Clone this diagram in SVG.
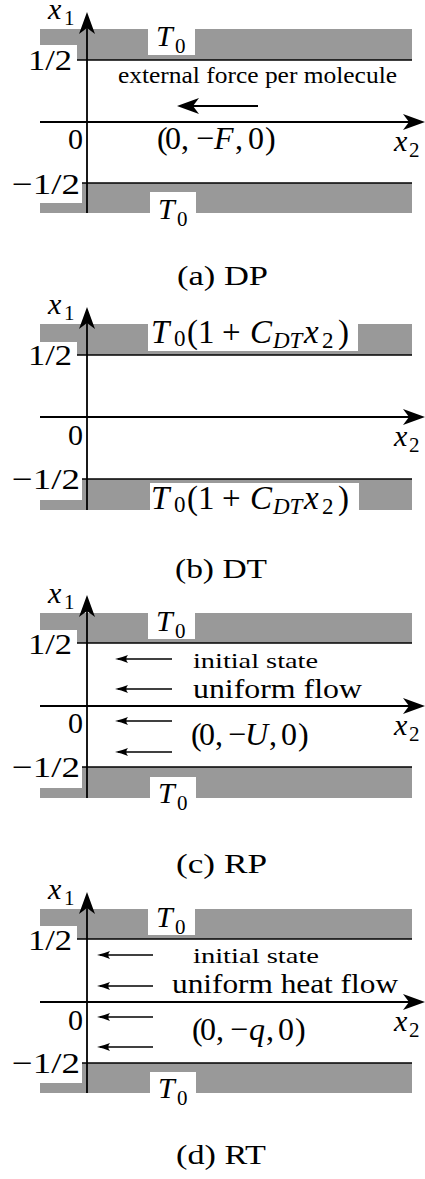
<svg xmlns="http://www.w3.org/2000/svg" width="425" height="1179" viewBox="0 0 425 1179">
<style>
text{font-family:"Liberation Serif","Times New Roman",serif;fill:#000}
.m{font-size:30px;font-style:italic}
.n{font-size:30px}
.tp{font-size:32px}
.s{font-size:21px;font-style:normal}
.g{font-size:33px}
.gs{font-size:23px;font-style:normal}
.gsi{font-size:23px;font-style:italic}
.t{font-size:24px}
.i{font-size:22px}
.u{font-size:28px}
.cap{font-size:27px}
.band{fill:#999999;stroke:none}
.wb{fill:#ffffff;stroke:none}
.bl{stroke:#000;stroke-width:1.6;fill:none}
.ax{stroke:#000;stroke-width:1.8;fill:none;marker-end:url(#ah)}
.fa{stroke:#000;stroke-width:2;fill:none;marker-end:url(#ah)}
.sa{stroke:#000;stroke-width:1.3;fill:none;marker-end:url(#sh)}
</style>
<defs>
<marker id="ah" viewBox="-24 -10 26 20" refX="-15" refY="0" markerWidth="26" markerHeight="20" markerUnits="userSpaceOnUse" orient="auto">
<path d="M0,0 L-22,-8 L-16,0 L-22,8 Z" fill="#000"/>
</marker>
<marker id="sh" viewBox="-16 -6 18 12" refX="-3" refY="0" markerWidth="18" markerHeight="12" markerUnits="userSpaceOnUse" orient="auto">
<path d="M0,0 Q-6,-1.2 -13,-4 Q-9.5,0 -13,4 Q-6,1.2 0,0 Z" fill="#000"/>
</marker>
</defs>

<!-- Panel (a) DP -->
<g id="panel-a">
<path class="band" d="M40,29 H412 V60 H77 V45 H40 Z"/>
<rect class="wb" x="148" y="29" width="47" height="26"/>
<path class="band" d="M82,183 H412 V213 H40 V203 H82 Z"/>
<rect class="wb" x="150" y="192" width="46" height="21"/>
<g id="connectors-a">
<path class="bl" d="M77,60 H412"/>
<path class="bl" d="M82,183 H412"/>
<path class="ax" d="M87,213 V27"/>
<path class="ax" d="M40,122 H410"/>
<path class="fa" d="M258,106 H192"/>
</g>
<text class="m" x="48" y="19">x</text><text class="s" x="64" y="25">1</text>
<text class="n" x="28" y="70" textLength="44" lengthAdjust="spacingAndGlyphs">1/2</text>
<text class="n" x="68" y="149">0</text>
<text class="n" x="12" y="194" textLength="68" lengthAdjust="spacingAndGlyphs">−1/2</text>
<text class="m" x="394" y="151">x</text><text class="s" x="409" y="157">2</text>
<text class="m" x="156" y="46">T</text><text class="s" x="175" y="53">0</text>
<text class="m" x="158" y="219">T</text><text class="s" x="177" y="226">0</text>
<text class="t" x="118" y="83" textLength="279" lengthAdjust="spacingAndGlyphs">external force per molecule</text>
<text class="tp" y="149"><tspan x="157 165 181">(0,</tspan><tspan x="196">−</tspan><tspan x="214" font-style="italic">F</tspan><tspan x="235 248 265">,0)</tspan></text>
<text class="cap" x="177" y="285" textLength="91" lengthAdjust="spacingAndGlyphs">(a) DP</text>
</g>

<!-- Panel (b) DT -->
<g id="panel-b">
<path class="band" d="M40,324 H412 V355 H77 V342 H40 Z"/>
<rect class="wb" x="148" y="324" width="210" height="27"/>
<path class="band" d="M82,479 H412 V510 H40 V500 H82 Z"/>
<rect class="wb" x="150" y="483" width="209" height="27"/>
<g id="connectors-b">
<path class="bl" d="M77,355 H412"/>
<path class="bl" d="M82,479 H412"/>
<path class="ax" d="M87,510 V322"/>
<path class="ax" d="M40,417 H410"/>
</g>
<text class="m" x="48" y="314">x</text><text class="s" x="64" y="320">1</text>
<text class="n" x="28" y="365" textLength="44" lengthAdjust="spacingAndGlyphs">1/2</text>
<text class="n" x="68" y="445">0</text>
<text class="n" x="12" y="489" textLength="68" lengthAdjust="spacingAndGlyphs">−1/2</text>
<text class="m" x="394" y="446">x</text><text class="s" x="409" y="452">2</text>
<text class="g" y="343"><tspan x="151" font-style="italic">T</tspan><tspan class="gs" x="174" y="346">0</tspan><tspan x="187 198" y="343">(1</tspan><tspan x="222">+</tspan><tspan x="250" font-style="italic">C</tspan><tspan class="gsi" x="273" y="348">DT</tspan><tspan x="304" y="343" font-style="italic">x</tspan><tspan class="gs" x="322" y="348">2</tspan><tspan x="338" y="343">)</tspan></text>
<text class="g" y="509"><tspan x="151" font-style="italic">T</tspan><tspan class="gs" x="174" y="512">0</tspan><tspan x="187 198" y="509">(1</tspan><tspan x="222">+</tspan><tspan x="250" font-style="italic">C</tspan><tspan class="gsi" x="273" y="514">DT</tspan><tspan x="304" y="509" font-style="italic">x</tspan><tspan class="gs" x="322" y="514">2</tspan><tspan x="338" y="509">)</tspan></text>
<text class="cap" x="175" y="578" textLength="92" lengthAdjust="spacingAndGlyphs">(b) DT</text>
</g>

<!-- Panel (c) RP -->
<g id="panel-c">
<path class="band" d="M40,613 H412 V643 H77 V630 H40 Z"/>
<rect class="wb" x="148" y="613" width="47" height="26"/>
<path class="band" d="M82,767 H412 V798 H40 V788 H82 Z"/>
<rect class="wb" x="150" y="777" width="46" height="21"/>
<g id="connectors-c">
<path class="bl" d="M77,643 H412"/>
<path class="bl" d="M82,767 H412"/>
<path class="ax" d="M87,798 V610"/>
<path class="ax" d="M40,706 H410"/>
<path class="sa" d="M172,659 H118"/>
<path class="sa" d="M172,689 H118"/>
<path class="sa" d="M172,721 H118"/>
<path class="sa" d="M172,752 H118"/>
</g>
<text class="m" x="48" y="603">x</text><text class="s" x="64" y="609">1</text>
<text class="n" x="28" y="654" textLength="44" lengthAdjust="spacingAndGlyphs">1/2</text>
<text class="n" x="68" y="733">0</text>
<text class="n" x="12" y="777" textLength="68" lengthAdjust="spacingAndGlyphs">−1/2</text>
<text class="m" x="394" y="735">x</text><text class="s" x="409" y="741">2</text>
<text class="m" x="156" y="631">T</text><text class="s" x="175" y="638">0</text>
<text class="m" x="158" y="803">T</text><text class="s" x="177" y="810">0</text>
<text class="i" x="193" y="668" textLength="125" lengthAdjust="spacingAndGlyphs">initial state</text>
<text class="u" x="193" y="698" textLength="169" lengthAdjust="spacingAndGlyphs">uniform flow</text>
<text class="tp" y="745"><tspan x="191 199 215">(0,</tspan><tspan x="228">−</tspan><tspan x="245" font-style="italic">U</tspan><tspan x="269 281 298">,0)</tspan></text>
<text class="cap" x="176" y="873" textLength="91" lengthAdjust="spacingAndGlyphs">(c) RP</text>
</g>

<!-- Panel (d) RT -->
<g id="panel-d">
<path class="band" d="M40,909 H412 V939 H77 V926 H40 Z"/>
<rect class="wb" x="148" y="909" width="47" height="26"/>
<path class="band" d="M82,1063 H412 V1093 H40 V1083 H82 Z"/>
<rect class="wb" x="150" y="1072" width="46" height="21"/>
<g id="connectors-d">
<path class="bl" d="M77,939 H412"/>
<path class="bl" d="M82,1063 H412"/>
<path class="ax" d="M87,1093 V907"/>
<path class="ax" d="M40,1002 H410"/>
<path class="sa" d="M153,955 H100"/>
<path class="sa" d="M153,986 H100"/>
<path class="sa" d="M153,1017 H100"/>
<path class="sa" d="M153,1047 H100"/>
</g>
<text class="m" x="48" y="899">x</text><text class="s" x="64" y="905">1</text>
<text class="n" x="28" y="950" textLength="44" lengthAdjust="spacingAndGlyphs">1/2</text>
<text class="n" x="68" y="1030">0</text>
<text class="n" x="12" y="1073" textLength="68" lengthAdjust="spacingAndGlyphs">−1/2</text>
<text class="m" x="394" y="1031">x</text><text class="s" x="409" y="1037">2</text>
<text class="m" x="156" y="927">T</text><text class="s" x="175" y="934">0</text>
<text class="m" x="158" y="1098">T</text><text class="s" x="177" y="1105">0</text>
<text class="i" x="193" y="963" textLength="126" lengthAdjust="spacingAndGlyphs">initial state</text>
<text class="u" x="172" y="993" textLength="226" lengthAdjust="spacingAndGlyphs">uniform heat flow</text>
<text class="tp" y="1040"><tspan x="192 200 216">(0,</tspan><tspan x="230">−</tspan><tspan x="249" font-style="italic">q</tspan><tspan x="266 278 295">,0)</tspan></text>
<text class="cap" x="176" y="1164" textLength="90" lengthAdjust="spacingAndGlyphs">(d) RT</text>
</g>
</svg>
